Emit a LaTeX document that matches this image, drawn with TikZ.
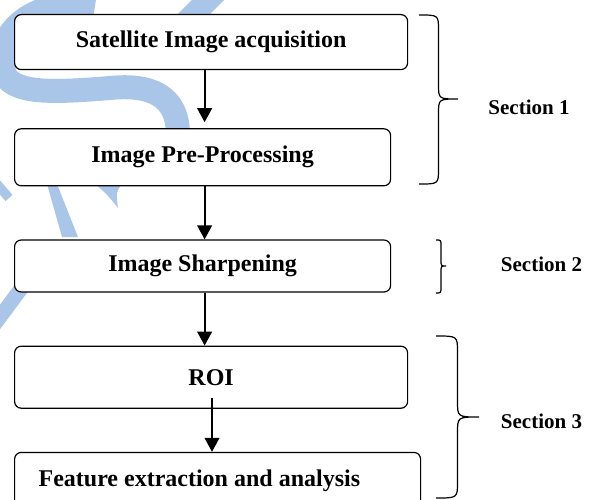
\documentclass[tikz,border=0pt]{standalone}
\usepackage{fontspec}
\setmainfont{Liberation Serif}
\usetikzlibrary{positioning,arrows.meta}
\definecolor{wmblue}{RGB}{169,198,232}
\tikzstyle{box}=[rectangle,draw,rounded corners=5pt,fill=white,line width=0.9pt,inner sep=0pt,anchor=north west,font=\fontsize{18pt}{22pt}\selectfont\bfseries]
\tikzstyle{sect}=[font=\fontsize{15.75pt}{19pt}\selectfont\bfseries]
\tikzstyle{flow}=[line width=1.5pt,-{Triangle[width=11pt,length=10.5pt]}]
\tikzstyle{sbrace}=[line width=0.9pt]
\tikzstyle{wmark}=[wmblue,line cap=butt]

\begin{document}
\begin{tikzpicture}[x=0.75pt,y=-0.75pt]
		\useasboundingbox (0,0) rectangle (595,499);
		\clip (0,0) rectangle (595,499);
		% watermark in the background
		\draw[wmark,line width=18pt] (95,6) .. controls (40,-4) and (-10,30) .. (5,75) .. controls (15,95) and (60,92) .. (110,88) .. controls (150,84) and (178,95) .. (178,135);
		\draw[wmark,line width=17pt] (186,22) -- (218,-10);
		\fill[wmark] (95,184) -- (122,184) .. controls (116,192) .. (118,208) .. controls (112,200) and (105,192) .. (95,184);
		\fill[wmark] (47,184) -- (57,184) -- (78,237) -- (62,237) -- cycle;
		\draw[wmark,line width=7pt] (-3,184) -- (9,198);
		\draw[wmark,line width=11pt] (26,282) -- (-6,325);
		% flow boxes
		\node[box,minimum width=294.75pt,minimum height=41.25pt] (acq) at (14,14) {Satellite Image acquisition};
		\node[box,minimum width=282pt,minimum height=42.75pt,below=43.5pt of acq.south west,anchor=north west] (pre) {Image Pre-Processing};
		\node[box,minimum width=282pt,minimum height=39pt,below=39.75pt of pre.south west,anchor=north west] (sharp) {Image Sharpening};
		\node[box,minimum width=294.75pt,minimum height=46.5pt,below=39.75pt of sharp.south west,anchor=north west] (roi) {ROI};
		\node[box,minimum width=304.5pt,minimum height=43pt,text width=268.5pt,inner xsep=18pt,align=flush left,below=32.25pt of roi.south west,anchor=north west] (feat) {Feature extraction and analysis};
		\coordinate (ax) at (204.6,0);
		\coordinate (bx) at (212,0);
		\draw[flow,shorten >=4.5pt] (acq.south -| ax) -- (pre.north -| ax);
		\draw[flow] (pre.south -| ax) -- (sharp.north -| ax);
		\draw[flow] (sharp.south -| ax) -- (roi.north -| ax);
		\draw[flow,shorten <=-8.25pt] (roi.south -| bx) -- (feat.north -| bx);
		% section braces
		\draw[sbrace] (419,15) .. controls (438.5,15) .. (438.5,30) -- (438.5,84) .. controls (438.5,99) .. (458,99) .. controls (438.5,99) .. (438.5,114) -- (438.5,169) .. controls (438.5,184) .. (419,184);
		\draw[sbrace] (436,240) .. controls (441,240) .. (441,246) -- (441,260) .. controls (441,266) .. (446,266) .. controls (441,266) .. (441,272) -- (441,287) .. controls (441,293) .. (436,293);
		\draw[sbrace] (436,336) .. controls (457.5,336) .. (457.5,352) -- (457.5,401) .. controls (457.5,417) .. (479,417) .. controls (457.5,417) .. (457.5,433) -- (457.5,482) .. controls (457.5,498) .. (436,498);
		\node[sect] (sec1) at (529,107) {Section 1};
		\node[sect] (sec2) at (541.5,264) {Section 2};
		\node[sect] (sec3) at (541.5,421) {Section 3};
	\end{tikzpicture}
\end{document}
